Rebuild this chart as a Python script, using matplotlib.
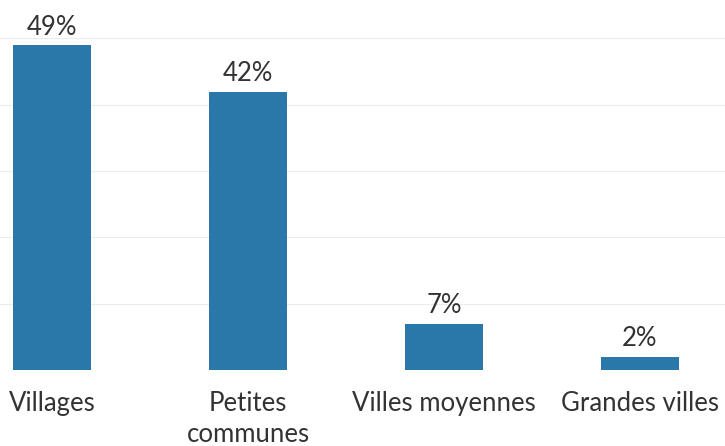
import matplotlib
matplotlib.use("Agg")
import matplotlib.pyplot as plt

# ------------------------------------------------------------
# Data
# ------------------------------------------------------------

CATEGORIES = ["Villages", "Petites\ncommunes", "Villes moyennes", "Grandes villes"]
SHARES = [49, 42, 7, 2]
VALUE_LABELS = ["49%", "42%", "7%", "2%"]

BAR_COLOR = "#2a78a9"
TEXT_COLOR = "#333333"

plt.rcParams["font.family"] = ["Lato", "DejaVu Sans"]

# ------------------------------------------------------------
# Plot
# ------------------------------------------------------------

fig = plt.figure(figsize=(7.25, 4.46), dpi=100)
ax = fig.add_axes([0, 0.17, 1, 0.83])

positions = list(range(len(CATEGORIES)))
bars = ax.bar(positions, SHARES, width=0.4, color=BAR_COLOR, zorder=2)

for bar, label in zip(bars, VALUE_LABELS):
    ax.annotate(
        label,
        (bar.get_x() + bar.get_width() / 2, bar.get_height()),
        xytext=(0, 4),
        textcoords="offset points",
        ha="center",
        va="bottom",
        fontsize=18.5,
        color=TEXT_COLOR,
    )

ax.set_xlim(-0.265, 3.434)
ax.set_ylim(0, 55.8)
ax.set_yticks([10, 20, 30, 40, 50])
ax.yaxis.grid(True, color="#ececec", linewidth=0.8, zorder=0)
ax.set_xticks(positions)
ax.set_xticklabels(CATEGORIES, fontsize=18.5, color=TEXT_COLOR, linespacing=1.3, va="top")
ax.tick_params(axis="x", length=0, pad=15)
ax.tick_params(axis="y", length=0, labelleft=False)

for spine in ax.spines.values():
    spine.set_visible(False)

fig.savefig("out.png", dpi=100)
